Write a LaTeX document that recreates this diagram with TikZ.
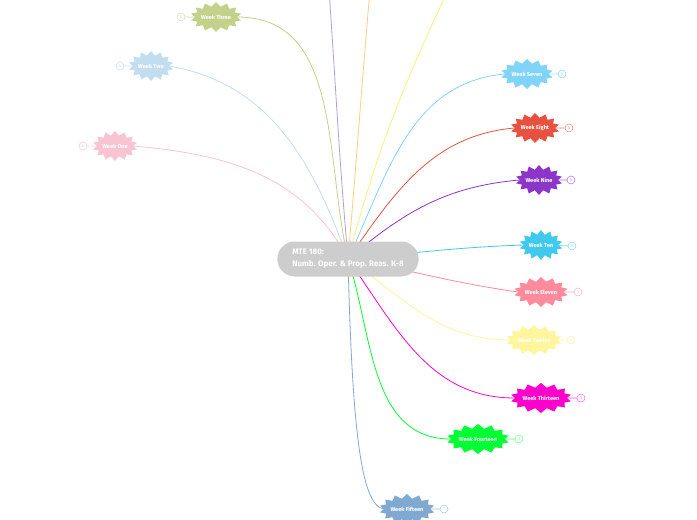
\documentclass[tikz,border=0pt]{standalone}
\usepackage{fontspec}
\setmainfont{Fira Sans}
\usetikzlibrary{shapes.symbols,shapes.misc}
\definecolor{cOne}{HTML}{F9C4D2}
\definecolor{cTwo}{HTML}{C3DDF0}
\definecolor{cThree}{HTML}{C4D18A}
\definecolor{cSeven}{HTML}{80D4F9}
\definecolor{cEight}{HTML}{E8503F}
\definecolor{cNine}{HTML}{8B35C9}
\definecolor{cTen}{HTML}{3FC9EC}
\definecolor{cEleven}{HTML}{FF8A9B}
\definecolor{cTwelve}{HTML}{FFF59D}
\definecolor{cThirteen}{HTML}{FF00CC}
\definecolor{cFourteen}{HTML}{00FF33}
\definecolor{cFifteen}{HTML}{80A9D2}
\definecolor{cFour}{HTML}{B39DDB}
\definecolor{cFive}{HTML}{FFCC80}
\definecolor{cSix}{HTML}{FFF176}
\definecolor{hubgray}{HTML}{CDCDCD}
\tikzset{
  week/.style={starburst, starburst points=14, starburst point height=4.5pt,
    random starburst=0, fill=#1, draw=none, text=white, inner xsep=0pt, inner ysep=4pt,
    minimum height=30pt, font=\fontsize{5.6}{7}\selectfont\bfseries},
  badge/.style={circle, draw=#1, fill=white, line width=0.5pt, minimum size=8pt,
    inner sep=0pt, text=#1, font=\fontsize{4}{4}\selectfont},
  link/.style={draw=#1, line width=0.8pt},
}
\begin{document}
\begin{tikzpicture}[x=1pt,y=-1pt]
\useasboundingbox (0,0) rectangle (697,520);
\fill[white] (0,0) rectangle (697,520);
\begin{scope}
\clip (0,0) rectangle (697,520);
% satellite nodes
\node[week=cThree] (w3) at (216,17) {Week Three};
\node[week=cTwo] (w2) at (151,66) {Week Two};
\node[week=cOne] (w1) at (115,146) {Week One};
\node[week=cSeven] (w7) at (527,74) {Week Seven};
\node[week=cEight] (w8) at (535,128) {Week Eight};
\node[week=cNine] (w9) at (539,180) {Week Nine};
\node[week=cTen] (w10) at (541,245) {Week Ten};
\node[week=cEleven] (w11) at (541,292) {Week Eleven};
\node[week=cTwelve] (w12) at (534,340) {Week Twelve};
\node[week=cThirteen] (w13) at (541,398) {Week Thirteen};
\node[week=cFourteen] (w14) at (478,439) {Week Fourteen};
\node[week=cFifteen] (w15) at (407,509) {Week Fifteen};
% badges
\node[badge=cThree!70] (b3) at (181,17) {5};
\node[badge=cTwo] (b2) at (120,66) {4};
\node[badge=cOne] (b1) at (83,146) {5};
\node[badge=cSeven] (b7) at (562,74) {5};
\node[badge=cEight!70] (b8) at (569,128) {4};
\node[badge=cNine!70] (b9) at (571,180) {5};
\node[badge=cTen!70] (b10) at (572,246) {5};
\node[badge=cEleven!70] (b11) at (578,292) {1};
\node[badge=cTwelve] (b12) at (571,340) {5};
\node[badge=cThirteen!60] (b13) at (581,398) {3};
\node[badge=cFourteen!60] (b14) at (519,439) {3};
\node[badge=cFifteen!70] (b15) at (444,509) {1};
\foreach \w/\b/\c in {w3/b3/cThree,w2/b2/cTwo,w1/b1/cOne,w7/b7/cSeven,w8/b8/cEight,w9/b9/cNine,w10/b10/cTen,w11/b11/cEleven,w12/b12/cTwelve,w13/b13/cThirteen,w14/b14/cFourteen,w15/b15/cFifteen}
  \draw[link=\c!70] (\w) -- (\b);
% hub and off-canvas ends
\coordinate (hub) at (348,259);
\coordinate (t4) at (329,-10);
\coordinate (t5) at (370,-10);
\coordinate (t6) at (448,-10);
% connectors
\draw[link=cOne] (hub) to[out=118,in=-5] (w1.east);
\draw[link=cTwo] (hub) to[out=110,in=-10] (w2.east);
\draw[link=cThree] (hub) to[out=103,in=0] (w3.east);
\draw[link=cFour] (hub) to[out=95,in=-86] (t4);
\draw[link=cFive] (hub) to[out=85,in=-95] (t5);
\draw[link=cSix] (hub) to[out=75,in=-115] (t6);
\draw[link=cSeven] (hub) to[out=65,in=185] (w7.west);
\draw[link=cEight] (hub) to[out=55,in=185] (w8.west);
\draw[link=cNine] (hub) to[out=40,in=185] (w9.west);
\draw[link=cTen] (hub) to[out=5,in=182] (w10.west);
\draw[link=cEleven] (hub) to[out=-10,in=172] (w11.west);
\draw[link=cTwelve] (hub) to[out=-35,in=180] (w12.west);
\draw[link=cThirteen] (hub) to[out=-55,in=180] (w13.west);
\draw[link=cFourteen] (hub) to[out=-72,in=180] (w14.west);
\draw[link=cFifteen] (hub) .. controls (352,420) and (360,505) .. (w15.west);
% central node
\node[rounded rectangle, fill=hubgray, text=white, minimum width=148pt, minimum height=35pt,
  align=left, font=\fontsize{8}{12}\selectfont\bfseries] (ctr) at (348,259)
  {MTE 180:\\Numb. Oper. \& Prop. Reas. K-8};
\end{scope}
\end{tikzpicture}
\end{document}
